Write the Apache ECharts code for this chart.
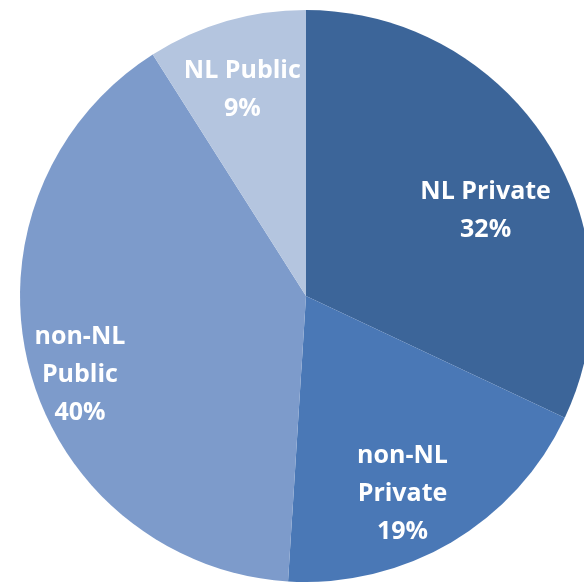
<!DOCTYPE html>
<html>
<head>
<meta charset="utf-8">
<script src="https://cdn.jsdelivr.net/npm/echarts@6/dist/echarts.min.js"></script>
<style>
html,body{margin:0;padding:0;background:#fff;}
#chart{width:584px;height:583px;}
</style>
</head>
<body>
<div id="chart"></div>
<script>
var categories = ['NL Private', 'non-NL Private', 'non-NL Public', 'NL Public'];
var values = [32, 19, 40, 9];
var colors = ['#3c6599', '#4a78b6', '#7d9bcb', '#b4c5df'];
// small label nudges (style only) to mimic the original label placement
var labelNudges = [[-7, 33], [-16, 8], [-12, 24], [-2, 6]];

var data = categories.map(function (c, i) {
  return { name: c, value: values[i], itemStyle: { color: colors[i] } };
});

function labelText(p) {
  var name = p.name.indexOf('non-NL') === 0 ? p.name.replace(' ', '\n') : p.name;
  return name + '\n' + p.value + '%';
}

var chart = echarts.init(document.getElementById('chart'));
chart.setOption({
  backgroundColor: '#ffffff',
  animation: false,
  series: [
    {
      type: 'pie',
      center: [306, 296],
      radius: [0, 286],
      startAngle: 90,
      clockwise: true,
      silent: true,
      label: { show: false },
      labelLine: { show: false },
      data: data
    },
    {
      type: 'pie',
      center: [306, 296],
      radius: [150, 286],
      startAngle: 90,
      clockwise: true,
      silent: true,
      itemStyle: { color: 'rgba(0,0,0,0)' },
      label: {
        show: true,
        position: 'inside',
        formatter: labelText,
        color: '#ffffff',
        fontFamily: 'Open Sans',
        fontWeight: 'bold',
        fontSize: 25,
        lineHeight: 38,
        align: 'center'
      },
      labelLine: { show: false },
      data: categories.map(function (c, i) {
        return { name: c, value: values[i], label: { offset: labelNudges[i] } };
      })
    }
  ]
});
</script>
</body>
</html>
